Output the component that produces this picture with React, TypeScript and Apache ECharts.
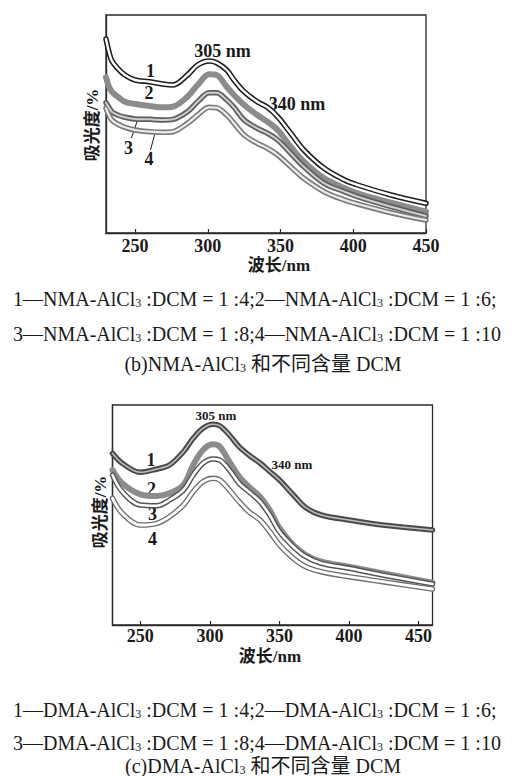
import React, { useEffect, useRef } from 'react';
import * as echarts from 'echarts';

// ---------- (b) NMA-AlCl3 ----------
const TOP_WL = [230, 232, 234, 238, 243, 250, 260, 270, 276, 286, 293, 301, 306, 313, 318, 325, 334, 341, 348, 357, 366, 380, 394, 403, 426, 450];
const TOP_1 = [194, 181.3, 172.3, 164.7, 158, 153, 151.3, 148.7, 148, 158, 168, 172, 170.3, 163, 153, 141.3, 131.3, 125.7, 116.3, 99.7, 83, 64.7, 53, 48, 38, 29.7];
const TOP_2 = [155.7, 146.3, 141.3, 136.3, 131.3, 129, 127, 125.7, 126.3, 136.3, 148, 158.7, 158, 146.3, 138, 128, 118, 111.3, 103, 86.3, 71.3, 54.7, 44.7, 39.7, 30.3, 21.3];
const TOP_3 = [130.3, 125.7, 121.3, 118, 115.7, 114, 113.7, 113, 113.7, 121.3, 131.3, 140.3, 140.3, 133, 125.7, 113, 104.7, 99.7, 93, 79.7, 66.3, 49.7, 41.3, 36.3, 26.3, 17];
const TOP_4 = [124.7, 118, 113, 109, 105.7, 103, 101.3, 100.7, 101.3, 109.7, 118, 125.7, 125.3, 118, 109.7, 98, 89.7, 84.7, 78, 66.3, 54.7, 41.3, 33, 29, 20.3, 13];

// ---------- (c) DMA-AlCl3 ----------
const BOT_WL = [230, 237, 250, 262, 271, 281, 288, 295, 302, 307, 314, 321, 328, 336, 343, 350, 360, 369, 380, 400, 424, 460];
const BOT_1 = [171.7, 161.7, 152.7, 156, 160, 173.3, 186.7, 196.7, 200.7, 199.3, 190, 178.3, 170, 162, 153.5, 145, 130, 117.3, 110, 105, 100, 95];
const BOT_2 = [155, 141.7, 130.7, 129, 131.7, 140, 160, 175, 180.7, 178.3, 163.3, 148.3, 138.3, 128.3, 115, 96.7, 80, 70, 63.3, 58.3, 51.7, 42.3];
const BOT_3 = [150, 133.3, 120, 119.3, 125, 135, 150, 161.7, 166, 165, 155, 141.7, 133.3, 123.3, 110, 93.3, 78.3, 68.3, 61.7, 56.7, 50, 41];
const BOT_4 = [126.7, 111.7, 100, 101.7, 108.3, 120, 133.3, 143.3, 146.7, 145, 135, 123.3, 113.3, 105, 93.3, 80, 66.7, 58.3, 53.3, 48.3, 43.3, 36];

const TICKS = [250, 300, 350, 400, 450];
const TOP_RANGE = [230, 450];
const BOT_RANGE = [230, 460];

const SERIF = '"Liberation Serif", "Times New Roman", "Noto Sans CJK SC", serif';

function zip(xs: number[], ys: number[]) {
  return xs.map((x, i) => [x, ys[i]]);
}

function band(name: string, xs: number[], ys: number[], idx: number, color: string, width: number, z: number) {
  return {
    name,
    type: 'line',
    xAxisIndex: idx,
    yAxisIndex: idx,
    data: zip(xs, ys),
    smooth: 0.35,
    showSymbol: false,
    symbol: 'none',
    lineStyle: { color, width, cap: 'round', join: 'round' },
    z,
    silent: true,
  };
}

function txt(x: number, y: number, text: string, size: number, weight = 'bold', extra: any = {}) {
  return {
    type: 'text',
    x,
    y,
    silent: true,
    style: {
      text,
      fontSize: size,
      fontFamily: SERIF,
      fontWeight: weight,
      fill: '#1a1a1a',
      align: 'center',
      verticalAlign: 'middle',
      textAlign: 'center',
      textVerticalAlign: 'middle',
    },
    ...extra,
  };
}

function caption(x: number, y: number, text: string, align = 'left') {
  return {
    type: 'text',
    x,
    y,
    silent: true,
    style: {
      text,
      fontSize: 20,
      fontFamily: SERIF,
      fill: '#1a1a1a',
      align,
      textAlign: align,
      verticalAlign: 'middle',
      textVerticalAlign: 'middle',
      rich: {
        a: { fontSize: 20, fontFamily: SERIF, fill: '#1a1a1a', lineHeight: 24, verticalAlign: 'bottom' },
        s: { fontSize: 12, fontFamily: SERIF, fill: '#1a1a1a', lineHeight: 10, verticalAlign: 'bottom' },
      },
    },
  };
}

function xAxisCfg(idx: number, range: number[]) {
  return {
    type: 'value',
    gridIndex: idx,
    min: range[0],
    max: range[1],
    axisLine: { show: true, lineStyle: { color: '#2a2a2a', width: 1.3 } },
    axisTick: { show: true, inside: true, length: 4, customValues: TICKS, lineStyle: { color: '#2a2a2a', width: 1.2 } },
    axisLabel: {
      show: true,
      customValues: TICKS,
      margin: idx === 0 ? 4 : 2,
      fontSize: 18,
      fontWeight: 'bold',
      fontFamily: SERIF,
      color: '#1a1a1a',
    },
    splitLine: { show: false },
  };
}

function yAxisCfg(idx: number, max: number) {
  return {
    type: 'value',
    gridIndex: idx,
    min: 0,
    max,
    axisLine: { show: true, lineStyle: { color: '#2a2a2a', width: 1.3 } },
    axisTick: { show: false },
    axisLabel: { show: false },
    splitLine: { show: false },
  };
}

export default function App() {
  const ref = useRef<HTMLDivElement>(null);

  useEffect(() => {
    document.body.style.margin = '0';
    if (!ref.current) return;
    const chart = echarts.init(ref.current, undefined, { renderer: 'svg' });

    const series: any[] = [
      // top chart
      band('1', TOP_WL, TOP_1, 0, '#1e1e1e', 5.5, 2),
      band('1i', TOP_WL, TOP_1, 0, '#ffffff', 2.4, 3),
      band('2', TOP_WL, TOP_2, 0, '#8c8c8c', 6, 2),
      band('3', TOP_WL, TOP_3, 0, '#5e5e5e', 5.5, 2),
      band('3i', TOP_WL, TOP_3, 0, '#cfcfcf', 2, 3),
      band('4', TOP_WL, TOP_4, 0, '#7a7a7a', 5.5, 2),
      band('4i', TOP_WL, TOP_4, 0, '#ececec', 2.2, 3),
      // bottom chart
      band('1', BOT_WL, BOT_1, 1, '#4a4a4a', 5.5, 2),
      band('1i', BOT_WL, BOT_1, 1, '#bdbdbd', 1.6, 3),
      band('2', BOT_WL, BOT_2, 1, '#8c8c8c', 6, 2),
      band('3', BOT_WL, BOT_3, 1, '#555555', 5.5, 2),
      band('3i', BOT_WL, BOT_3, 1, '#ffffff', 2.6, 3),
      band('4', BOT_WL, BOT_4, 1, '#6e6e6e', 5.5, 2),
      band('4i', BOT_WL, BOT_4, 1, '#ffffff', 2.8, 3),
    ];

    const graphics: any[] = [
      // top chart texts
      txt(92, 125, '吸光度/%', 17, 'bold', { rotation: Math.PI / 2 }),
      txt(279, 265, '波长/nm', 17),
      txt(222.5, 51, '305 nm', 18),
      txt(297, 104, '340 nm', 18),
      txt(150.5, 71, '1', 18),
      txt(149, 93, '2', 18),
      txt(128.5, 148, '3', 18),
      txt(149, 159, '4', 18),
      { type: 'line', silent: true, shape: { x1: 131.5, y1: 138, x2: 137, y2: 121.5 }, style: { stroke: '#1a1a1a', lineWidth: 1 } },
      { type: 'line', silent: true, shape: { x1: 150.5, y1: 150, x2: 154.5, y2: 135 }, style: { stroke: '#1a1a1a', lineWidth: 1 } },
      caption(13, 297, '{a|1—NMA-AlCl}{s|3}{a| :DCM = 1 :4;2—NMA-AlCl}{s|3}{a| :DCM = 1 :6;}'),
      caption(13, 332, '{a|3—NMA-AlCl}{s|3}{a| :DCM = 1 :8;4—NMA-AlCl}{s|3}{a| :DCM = 1 :10}'),
      caption(263, 362, '{a|(b)NMA-AlCl}{s|3}{a| 和不同含量 DCM}', 'center'),
      // bottom chart texts
      txt(100, 512, '吸光度/%', 17, 'bold', { rotation: Math.PI / 2 }),
      txt(270, 656, '波长/nm', 17),
      txt(216, 415, '305 nm', 13),
      txt(292, 464, '340 nm', 13),
      txt(151, 460, '1', 18),
      txt(151.5, 488.5, '2', 18),
      txt(152.5, 514, '3', 18),
      txt(152.5, 539, '4', 18),
      caption(13, 708, '{a|1—DMA-AlCl}{s|3}{a| :DCM = 1 :4;2—DMA-AlCl}{s|3}{a| :DCM = 1 :6;}'),
      caption(13, 741, '{a|3—DMA-AlCl}{s|3}{a| :DCM = 1 :8;4—DMA-AlCl}{s|3}{a| :DCM = 1 :10}'),
      caption(263, 764, '{a|(c)DMA-AlCl}{s|3}{a| 和不同含量 DCM}', 'center'),
    ];

    chart.setOption({
      animation: false,
      backgroundColor: '#ffffff',
      grid: [
        { left: 106, top: 15, width: 320, height: 218, show: true, borderColor: '#2a2a2a', borderWidth: 1.3, backgroundColor: 'transparent' },
        { left: 112.5, top: 405, width: 320, height: 220, show: true, borderColor: '#2a2a2a', borderWidth: 1.3, backgroundColor: 'transparent' },
      ],
      xAxis: [xAxisCfg(0, TOP_RANGE), xAxisCfg(1, BOT_RANGE)],
      yAxis: [yAxisCfg(0, 218), yAxisCfg(1, 220)],
      series,
      graphic: graphics,
    });

    return () => chart.dispose();
  }, []);

  return <div ref={ref} style={{ width: 513, height: 776 }} />;
}
